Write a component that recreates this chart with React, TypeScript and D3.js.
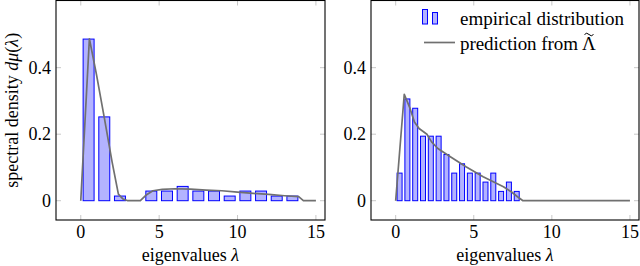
import React from "react";
import * as d3 from "d3";

// histogram bins (centers) and heights
const leftBins = [0.5, 1.5, 2.5, 3.5, 4.5, 5.5, 6.5, 7.5, 8.5, 9.5, 10.5, 11.5, 12.5, 13.5];
const leftHist = [0.486, 0.252, 0.014, 0, 0.029, 0.029, 0.043, 0.029, 0.029, 0.014, 0.029, 0.029, 0.014, 0.014];

const rightBins = [0.25, 0.75, 1.25, 1.75, 2.25, 2.75, 3.25, 3.75, 4.25, 4.75, 5.25, 5.75, 6.25, 6.75, 7.25, 7.75];
const rightHist = [0.083, 0.306, 0.278, 0.194, 0.194, 0.194, 0.139, 0.083, 0.111, 0.083, 0.083, 0.056, 0.083, 0.028, 0.056, 0.028];

// predicted density curves
const leftCurveX = [0, 0.55, 1.0, 1.5, 2.0, 2.4, 2.7, 3.0, 3.8, 4.2, 4.6, 5.2, 6.0, 7.0, 8.0, 9.0, 10.0, 11.0, 12.0, 13.0, 13.9, 14.2, 15.0];
const leftCurveY = [0, 0.487, 0.38, 0.25, 0.116, 0.02, 0.005, 0, 0, 0.018, 0.03, 0.034, 0.036, 0.035, 0.032, 0.03, 0.026, 0.022, 0.019, 0.015, 0.012, 0, 0];

const rightCurveX = [0, 0.55, 0.9, 1.2, 1.5, 2.0, 2.3, 2.7, 3.5, 4.5, 5.6, 6.9, 7.4, 7.8, 8.15, 15];
const rightCurveY = [0, 0.32, 0.28, 0.237, 0.217, 0.2, 0.177, 0.157, 0.132, 0.102, 0.072, 0.042, 0.027, 0.012, 0, 0];

const xTicks = [0, 5, 10, 15];
const yTicks = [0, 0.2, 0.4];

const FONT = "Liberation Serif, DejaVu Serif, serif";
const BAR_STROKE = "#0000ff";
const BAR_FILL = "#b3b3ff";
const LINE = "#707070";
const TICK = "#c8c8c8";

const top = 0.5, bottom = 220;

function Panel({ x0, x1, bins, hist, barW, cx, cy, yLabel, legend }) {
  const x = d3.scaleLinear().domain([-1.58, 15.58]).range([x0, x1]);
  const y = d3.scaleLinear().domain([-0.058, 0.602]).range([bottom, top]);
  const pts = cx.map((v, i) => [v, cy[i]]);
  const line = d3.line().x(d => x(d[0])).y(d => y(d[1]));

  return (
    <g>
      {/* bars */}
      {bins.map((b, i) => hist[i] > 0 && (
        <rect key={i} x={x(b - barW / 2)} y={y(hist[i])}
          width={x(b + barW / 2) - x(b - barW / 2)} height={y(0) - y(hist[i])}
          fill={BAR_FILL} stroke={BAR_STROKE} strokeWidth={1} />
      ))}
      <path d={line(pts)} fill="none" stroke={LINE} strokeWidth={1.7} strokeLinejoin="round" />

      {/* ticks on all sides */}
      {xTicks.map(t => (
        <g key={"x" + t}>
          <line x1={x(t)} x2={x(t)} y1={bottom} y2={bottom - 5} stroke={TICK} />
          <line x1={x(t)} x2={x(t)} y1={top} y2={top + 5} stroke={TICK} />
          <text x={x(t)} y={238} textAnchor="middle" fontSize={18}>{t}</text>
        </g>
      ))}
      {yTicks.map(t => (
        <g key={"y" + t}>
          <line x1={x0} x2={x0 + 5} y1={y(t)} y2={y(t)} stroke={TICK} />
          <line x1={x1} x2={x1 - 5} y1={y(t)} y2={y(t)} stroke={TICK} />
          <text x={x0 - 5} y={y(t)} dy="0.34em" textAnchor="end" fontSize={18}>{t}</text>
        </g>
      ))}
      <rect x={x0} y={top} width={x1 - x0} height={bottom - top} fill="none" stroke="#000" strokeWidth={1.1} />

      <text x={(x0 + x1) / 2} y={261} textAnchor="middle" fontSize={18}>
        eigenvalues <tspan fontStyle="italic">λ</tspan>
      </text>

      {yLabel && (
        <text transform={`translate(18,${(top + bottom) / 2}) rotate(-90)`} textAnchor="middle" fontSize={18}>
          spectral density <tspan fontStyle="italic">dμ</tspan>(<tspan fontStyle="italic">λ</tspan>)
        </text>
      )}

      {legend && (
        <g fontSize={19}>
          <rect x={422.5} y={9.5} width={5} height={14.5} fill={BAR_FILL} stroke={BAR_STROKE} />
          <rect x={432.5} y={12.5} width={5} height={11.5} fill={BAR_FILL} stroke={BAR_STROKE} />
          <text x={460} y={25} textLength={164}>empirical distribution</text>
          <line x1={424} x2={455} y1={42.5} y2={42.5} stroke={LINE} strokeWidth={1.7} />
          <text x={460} y={50} textLength={118}>prediction from</text>
          <text x={589} y={50} textAnchor="middle">Λ</text>
          {/* tilde accent over Lambda */}
          <path d="M584.5,34.5 q2.2,-2.6 4.5,0 t4.5,0" fill="none" stroke="#000" strokeWidth={1} />
        </g>
      )}
    </g>
  );
}

export default function App() {
  return (
    <svg width={640} height={266} style={{ position: "absolute", left: 0, top: 0, fontFamily: FONT }}>
      <rect width={640} height={266} fill="#fff" />
      <Panel x0={56} x1={325} bins={leftBins} hist={leftHist} barW={0.7}
        cx={leftCurveX} cy={leftCurveY} yLabel legend={false} />
      <Panel x0={371} x1={639} bins={rightBins} hist={rightHist} barW={0.32}
        cx={rightCurveX} cy={rightCurveY} yLabel={false} legend />
    </svg>
  );
}
